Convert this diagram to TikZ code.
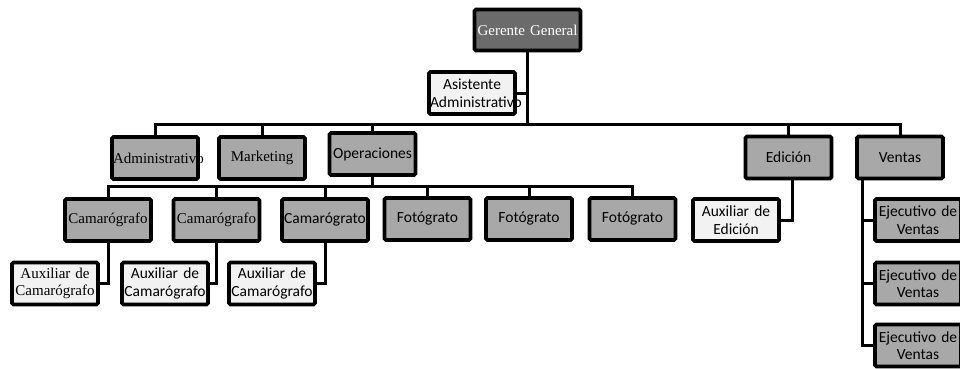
\documentclass[tikz,border=0pt]{standalone}
\usepackage{fontspec}
\setmainfont{Liberation Serif}
\newfontfamily\carl{Carlito}

\begin{document}
\begin{tikzpicture}[x=1pt, y=-1pt,
    box/.style={draw=black, line width=3.6pt, rounded corners=1.5pt,
      minimum width=86pt, minimum height=42pt, inner sep=0pt,
      text width=84pt, align=center, font=\fontsize{15}{17.5}\selectfont},
    dark/.style={box, fill=black!58, text=white},
    mid/.style={box, fill=black!34},
    light/.style={box, fill=black!5},
    sans/.style={font=\carl\fontsize{15.5}{17.5}\selectfont},
    link/.style={line width=3pt, line cap=rect}]
  \useasboundingbox (0,0) rectangle (960,369);

  % top of the chart
  \node[dark, minimum width=106pt, minimum height=41pt, text width=104pt] (ger) at (527.5,30) {Gerente General};
  \node[light, sans] (asis) at (472,93) {Asistente\\Administrativo};

  % areas
  \node[mid] (adm) at (155,158) {Administrativo};
  \node[mid] (mkt) at (262,158) {Marketing};
  \node[mid, sans] (ope) at (372.5,154) {Operaciones};
  \node[mid, sans] (edi) at (788.5,157.5) {Edición};
  \node[mid, sans] (ven) at (900,157.5) {Ventas};

  % operaciones staff
  \node[mid] (cam1) at (108,220) {Camarógrafo};
  \node[mid] (cam2) at (216.5,220) {Camarógrafo};
  \node[mid, sans] (cam3) at (325,220) {Camarógrato};
  \node[mid, sans] (fot1) at (427.5,219) {Fotógrato};
  \node[mid, sans] (fot2) at (529,219) {Fotógrato};
  \node[mid, sans] (fot3) at (632.5,219) {Fotógrato};

  \node[light] (aux1) at (55,283.5) {Auxiliar de\\Camarógrafo};
  \node[light, sans] (aux2) at (165,283.5) {Auxiliar de\\Camarógrafo};
  \node[light, sans] (aux3) at (272,283.5) {Auxiliar de\\Camarógrafo};
  \node[light, sans] (auxe) at (736,220) {Auxiliar de\\Edición};

  \node[mid, sans] (eje1) at (918,220) {Ejecutivo de\\Ventas};
  \node[mid, sans] (eje2) at (918,283.5) {Ejecutivo de\\Ventas};
  \node[mid, sans] (eje3) at (918,345.5) {Ejecutivo de\\Ventas};

  % connectors
  \coordinate (bus1) at (527.5,124);
  \coordinate (bus2) at (372.5,186);
  \coordinate (vtr) at (862,180);

  \draw[link] (ger.south) -- (bus1);
  \draw[link] (asis.east) -- (asis.east -| ger.south);
  \draw[link] (adm.north) |- (bus1) -| (ven.north);
  \foreach \n in {mkt,ope,edi}
      \draw[link] (\n.north) -- (\n.north |- bus1);

  \draw[link] (ope.south) -- (bus2);
  \draw[link] (cam1.north) |- (bus2) -| (fot3.north);
  \foreach \n in {cam2,cam3,fot1,fot2}
      \draw[link] (\n.north) -- (\n.north |- bus2);

  \draw[link] (cam1.south) |- (aux1.east);
  \draw[link] (cam2.south) |- (aux2.east);
  \draw[link] (cam3.south) |- (aux3.east);
  \draw[link] (edi.south -| 792,0) |- (auxe.east);

  \draw[link] (vtr) |- (eje3.west);
  \draw[link] (vtr |- eje1.west) -- (eje1.west);
  \draw[link] (vtr |- eje2.west) -- (eje2.west);
\end{tikzpicture}
\end{document}
